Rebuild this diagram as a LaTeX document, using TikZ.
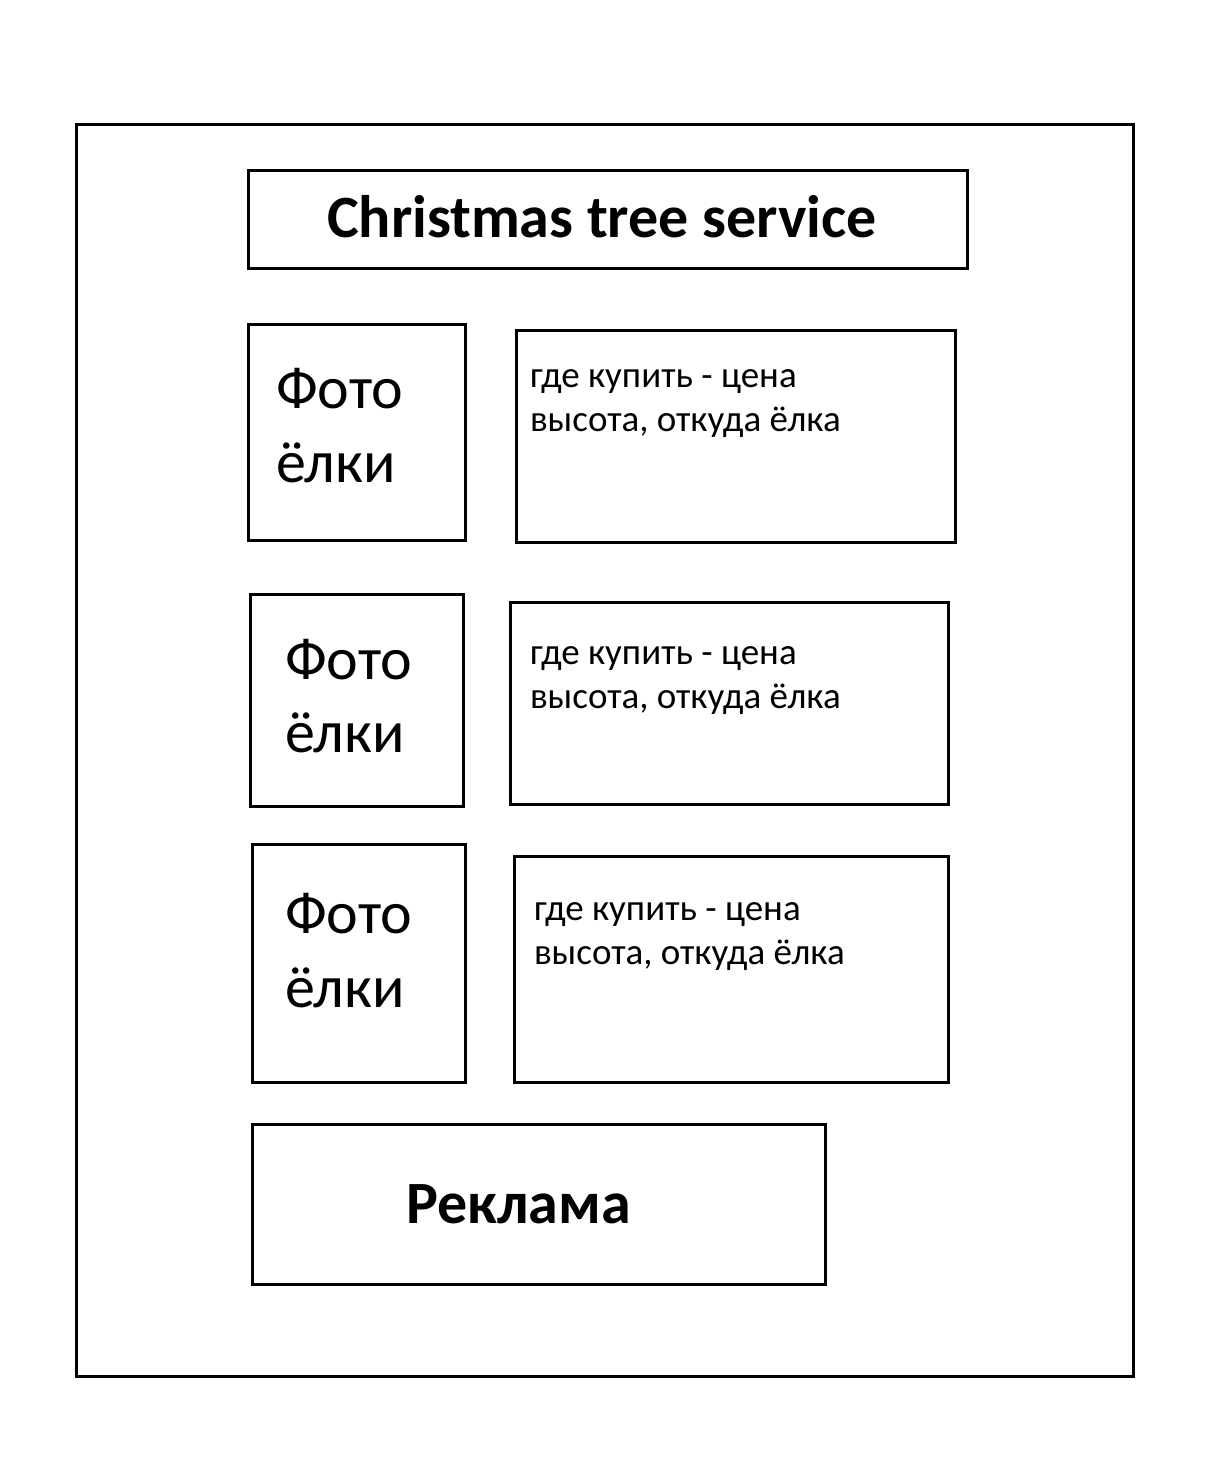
\documentclass[tikz,border=0pt]{standalone}
\usepackage{fontspec}
\setmainfont{Carlito}
\begin{document}
\begin{tikzpicture}[x=1pt,y=-1pt,
  frame/.style={draw=black,line width=3pt,anchor=north west,inner sep=0pt,outer sep=0pt},
  label/.style={anchor=base west,inner sep=0pt,outer sep=0pt,text=black},
  titletext/.style={anchor=base,inner sep=0pt,outer sep=0pt,font=\fontsize{60}{70}\selectfont\bfseries},
  phototext/.style={label,font=\fontsize{60}{70}\selectfont},
  infotext/.style={label,font=\fontsize{37}{44}\selectfont}]
\useasboundingbox (0,0) rectangle (1214,1480);
\fill[white] (0,0) rectangle (1214,1480);

% page outline
\node[frame,minimum width=1057pt,minimum height=1252pt] (page) at (76,124) {};

% header
\node[frame,minimum width=719pt,minimum height=98pt] (header) at (248,170) {};
\node[titletext] (headertext) at (602,237) {Christmas tree service};

% three listing rows: photo box + description box
\node[frame,minimum width=217pt,minimum height=216pt] (photoA) at (248,324) {};
\node[frame,minimum width=439pt,minimum height=212pt] (infoA) at (516,330) {};
\node[phototext] (photoAa) at (276,408) {Фото};
\node[phototext] (photoAb) at (276,482) {ёлки};
\node[infotext] (infoAa) at (530,387) {где купить - цена};
\node[infotext] (infoAb) at (530,431) {высота, откуда ёлка};

\node[frame,minimum width=213pt,minimum height=212pt] (photoB) at (250,594) {};
\node[frame,minimum width=438pt,minimum height=202pt] (infoB) at (510,602) {};
\node[phototext] (photoBa) at (285,679) {Фото};
\node[phototext] (photoBb) at (285,752) {ёлки};
\node[infotext] (infoBa) at (530,664) {где купить - цена};
\node[infotext] (infoBb) at (530,708) {высота, откуда ёлка};

\node[frame,minimum width=213pt,minimum height=238pt] (photoC) at (252,844) {};
\node[frame,minimum width=434pt,minimum height=226pt] (infoC) at (514,856) {};
\node[phototext] (photoCa) at (285,933) {Фото};
\node[phototext] (photoCb) at (285,1007) {ёлки};
\node[infotext] (infoCa) at (534,920) {где купить - цена};
\node[infotext] (infoCb) at (534,964) {высота, откуда ёлка};

% advertising block
\node[frame,minimum width=573pt,minimum height=160pt] (ad) at (252,1124) {};
\node[titletext,anchor=base west] (adtext) at (406,1223) {Реклама};
\end{tikzpicture}
\end{document}
